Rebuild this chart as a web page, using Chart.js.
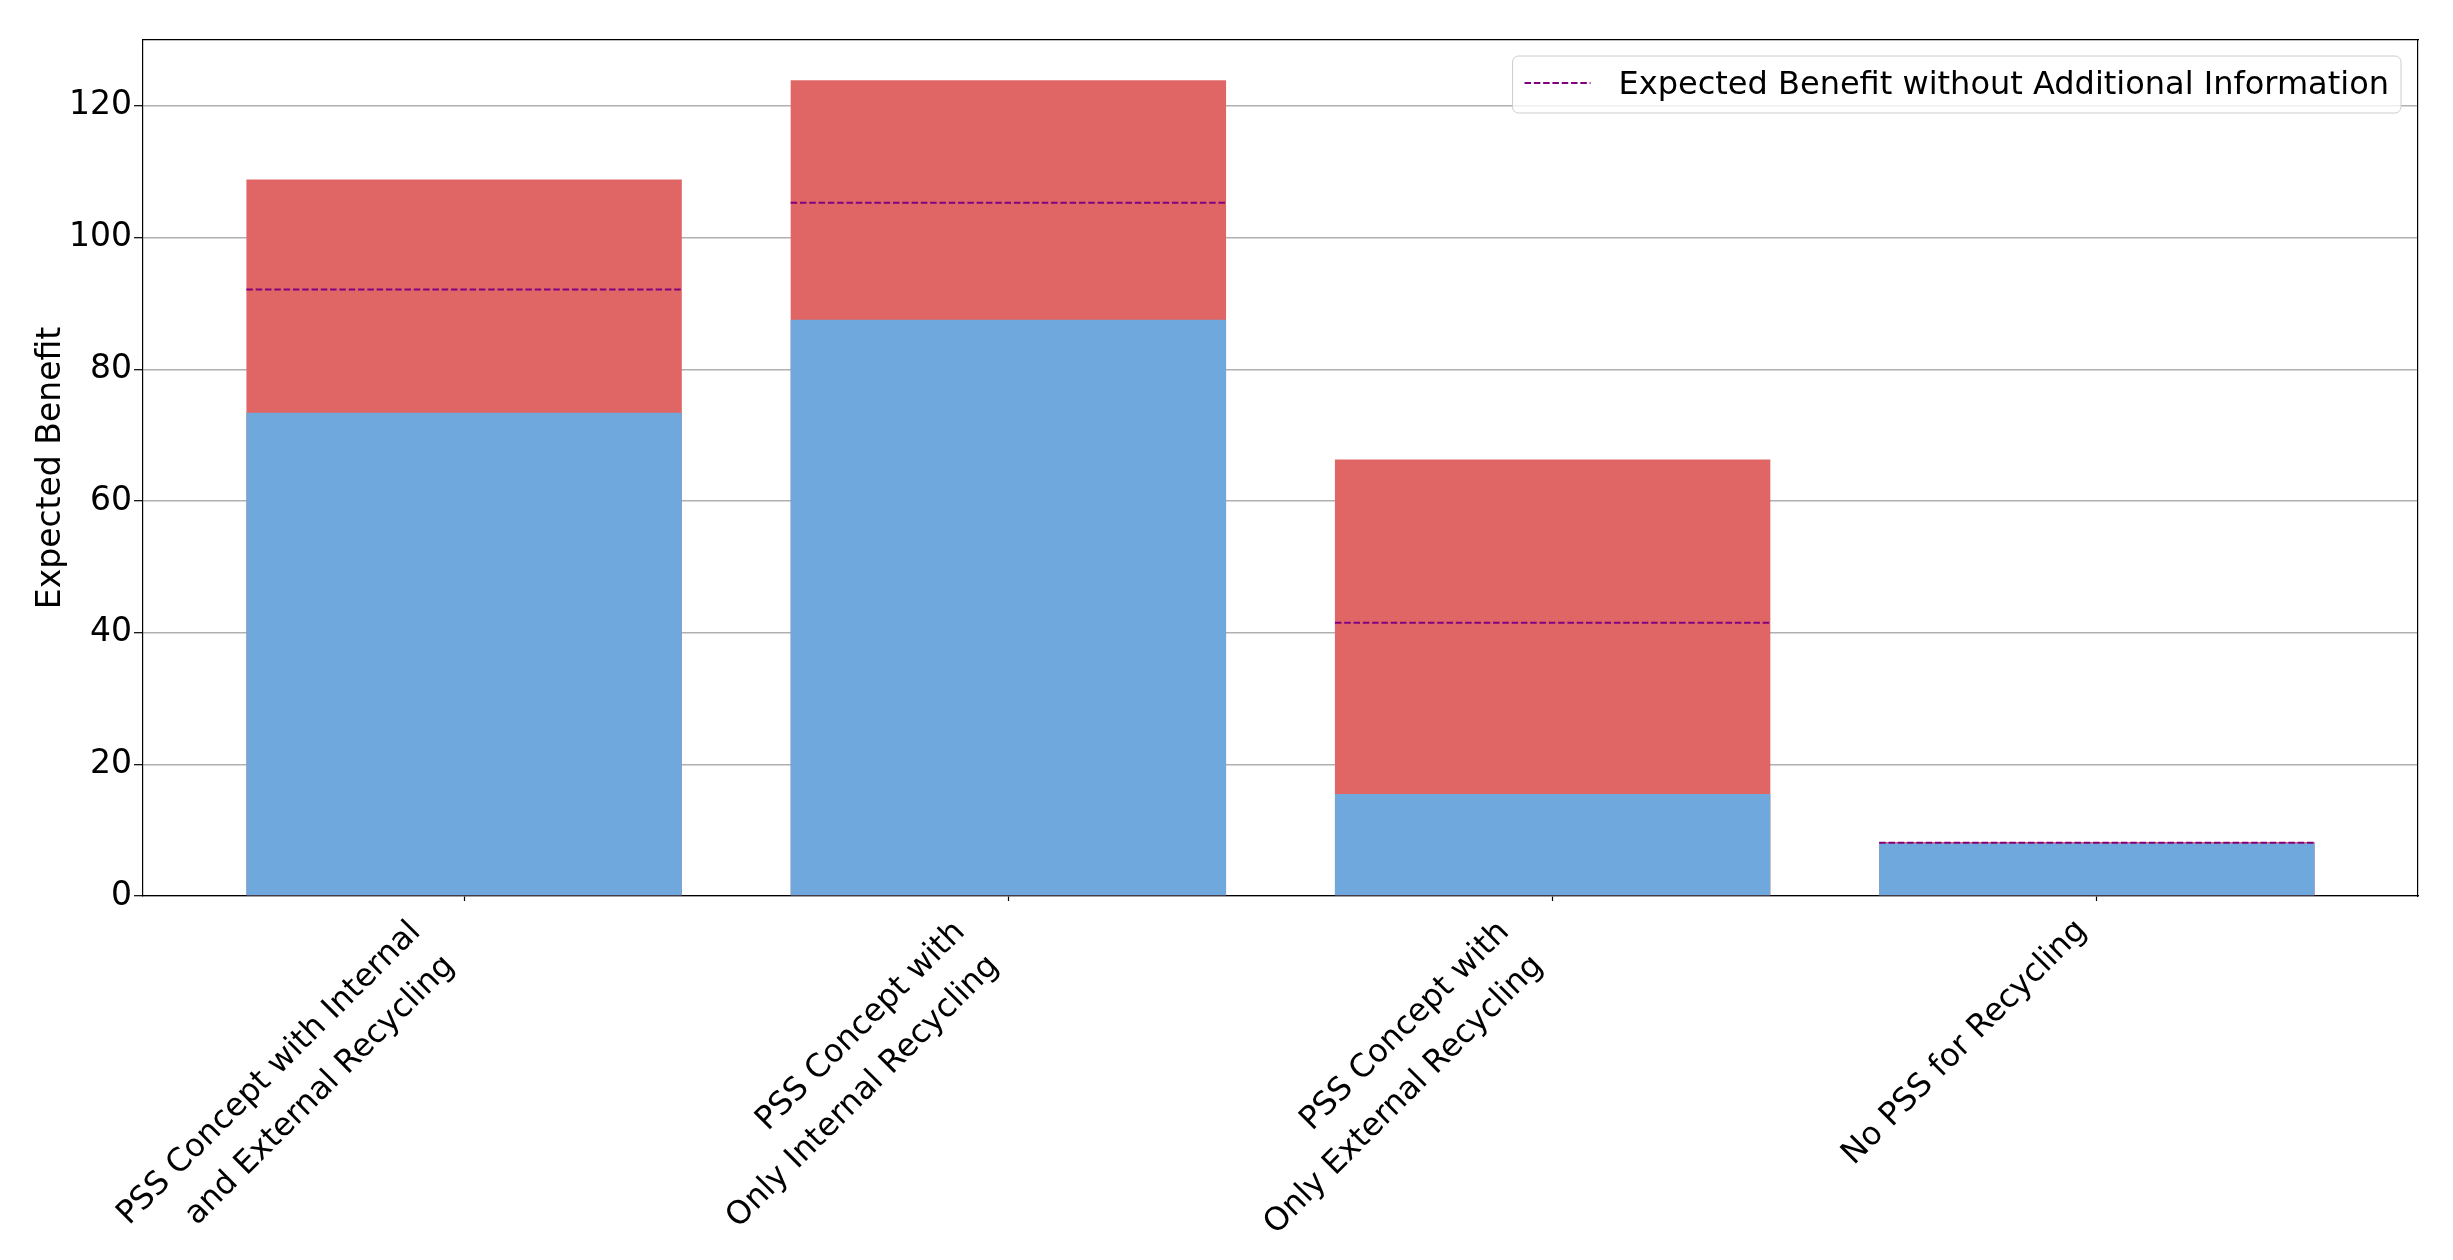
<!DOCTYPE html>
<html>
<head>
<meta charset="utf-8">
<script src="https://cdn.jsdelivr.net/npm/chart.js@4.4.1/dist/chart.umd.min.js"></script>
<style>
    html, body { margin: 0; padding: 0; background: #ffffff; }
    #wrap { width: 2453px; height: 1260px; }
</style>
</head>
<body>
<div id="wrap"><canvas id="benefitChart" width="2453" height="1260"></canvas></div>
<script>
"use strict";

/** DATA */

// Categories (each entry is one multi-line tick label)
const categories = [
    ['PSS Concept with Internal', 'and External Recycling'],
    ['PSS Concept with', 'Only Internal Recycling'],
    ['PSS Concept with', 'Only External Recycling'],
    ['No PSS for Recycling']
];

// Upper (red) bars
const benefitUpper = [108.8, 123.9, 66.3, 8.2];

// Lower (blue) bars
const benefitLower = [73.4, 87.5, 15.5, 8.0];

// Dashed reference per category
const benefitWithoutInfo = [92.1, 105.3, 41.5, 8.1];

// Y axis ticks
const yTicks = [0, 20, 40, 60, 80, 100, 120];

const LEGEND_LABEL = 'Expected Benefit without Additional Information';


/** STYLE */

const FONT = 'DejaVu Sans';
const FONT_SIZE = 33;
const X_FONT_SIZE = 32;
const COLOR = {
    BLUE: '#6fa8dc',
    RED: '#e06666',
    PURPLE: '#800080',
    GRID: '#b0b0b0',
    AXIS: '#000000'
};
const BAR_WIDTH = 0.8;
const X_MARGIN = 0.19;
const DASH = [6.5, 2.8];

// Rotated multi-line labels: trailing pad keeps every label's box right edge on its tick
const LINE_PAD = '    \u200A\u200A';

Chart.defaults.font.family = FONT;
Chart.defaults.font.size = FONT_SIZE;
Chart.defaults.color = '#000000';


/** HELPERS */

// Points {x, y} for the bar charts
const toPoints = values => values.map((v, i) => ({ x: i, y: v }));

// Horizontal segments across each bar, separated by gaps
const toSegments = values => {
    const points = [];
    values.forEach((v, i) => {
        points.push({ x: i - BAR_WIDTH / 2, y: v });
        points.push({ x: i + BAR_WIDTH / 2, y: v });
        points.push({ x: i + 0.5, y: null });
    });
    return points;
};

// Legend drawn inside the plot area (upper right)
const insideLegend = {
    id: 'insideLegend',
    afterDraw: chart => {
        const { ctx, chartArea } = chart;
        const ds = chart.data.datasets.find(d => d.showInLegend);
        if(!ds) return;

        ctx.save();
        ctx.font = `32px "${ FONT }"`;

        const pad = 12, handle = 66, gap = 28, h = 57;
        const textW = ctx.measureText(ds.label).width;
        const w = pad + handle + gap + textW + pad;
        const right = chartArea.right - 17;
        const top = chartArea.top + 16;
        const left = right - w;

        // Frame
        ctx.beginPath();
        ctx.roundRect(left, top, w, h, 6);
        ctx.fillStyle = 'rgba(255,255,255,0.8)';
        ctx.fill();
        ctx.lineWidth = 1;
        ctx.strokeStyle = '#cccccc';
        ctx.stroke();

        // Handle
        ctx.beginPath();
        ctx.setLineDash(ds.borderDash);
        ctx.lineWidth = ds.borderWidth;
        ctx.strokeStyle = ds.borderColor;
        ctx.moveTo(left + pad, top + 27);
        ctx.lineTo(left + pad + handle, top + 27);
        ctx.stroke();
        ctx.setLineDash([]);

        // Label
        ctx.fillStyle = '#000000';
        ctx.textBaseline = 'alphabetic';
        ctx.textAlign = 'left';
        ctx.fillText(ds.label, left + pad + handle + gap, top + 38);
        ctx.restore();
    }
};


/** INITIALIZE CHART */

const benefitChart = new Chart(document.getElementById('benefitChart').getContext('2d'), {
    data: {
        datasets: [
            {
                type: 'line',
                label: LEGEND_LABEL,
                showInLegend: true,
                data: toSegments(benefitWithoutInfo),
                borderColor: COLOR.PURPLE,
                borderWidth: 2,
                borderDash: DASH,
                pointRadius: 0,
                spanGaps: false,
                order: 0
            },
            {
                type: 'bar',
                label: 'Lower',
                data: toPoints(benefitLower),
                backgroundColor: COLOR.BLUE,
                grouped: false,
                barPercentage: BAR_WIDTH,
                categoryPercentage: 1,
                order: 1
            },
            {
                type: 'bar',
                label: 'Upper',
                data: toPoints(benefitUpper),
                backgroundColor: COLOR.RED,
                grouped: false,
                barPercentage: BAR_WIDTH,
                categoryPercentage: 1,
                order: 2
            }
        ]
    },
    options: {
        responsive: false,
        animation: false,
        devicePixelRatio: 1,
        layout: {
            padding: { top: 40, right: 35, left: 0, bottom: 0 }
        },
        plugins: {
            legend: { display: false },
            tooltip: { enabled: false }
        },
        scales: {
            x: {
                type: 'linear',
                position: 'bottom',
                offset: false,
                min: -BAR_WIDTH / 2 - X_MARGIN,
                max: categories.length - 1 + BAR_WIDTH / 2 + X_MARGIN,
                afterBuildTicks: scale => {
                    scale.ticks = categories.map((c, i) => ({ value: i }));
                },
                afterFit: scale => { scale.height = 364; },
                ticks: {
                    autoSkip: false,
                    minRotation: 45,
                    maxRotation: 45,
                    labelOffset: -15,
                    padding: -24,
                    // single-line labels sit between the two line slots
                    font: ctx => ({
                        size: X_FONT_SIZE,
                        lineHeight: (categories[ctx.index] || []).length > 1 ? 1.5 : 4.31
                    }),
                    callback: value => {
                        const lines = categories[value];
                        return lines.length > 1 ? lines.map(l => l + LINE_PAD) : lines;
                    }
                },
                grid: {
                    offset: false,
                    drawOnChartArea: false,
                    drawTicks: true,
                    tickLength: 5,
                    tickColor: COLOR.AXIS,
                    tickWidth: 1.2
                },
                border: { display: true, color: COLOR.AXIS, width: 1.2 }
            },
            y: {
                type: 'linear',
                position: 'left',
                min: 0,
                max: 130,
                z: 1,
                afterBuildTicks: scale => {
                    scale.ticks = yTicks.map(v => ({ value: v }));
                },
                afterFit: scale => { scale.width = 143; },
                ticks: {
                    padding: 2,
                    font: { size: FONT_SIZE }
                },
                grid: {
                    color: COLOR.GRID,
                    lineWidth: 1.4,
                    tickLength: 9,
                    tickColor: COLOR.AXIS,
                    tickWidth: 1.2
                },
                border: { display: true, color: COLOR.AXIS, width: 1.2 },
                title: {
                    display: true,
                    text: 'Expected Benefit',
                    font: { size: FONT_SIZE },
                    padding: { top: 32, bottom: 0 }
                }
            },
            // Top and right frame lines
            xTop: {
                type: 'linear',
                position: 'top',
                ticks: { display: false },
                grid: { display: false },
                border: { display: true, color: COLOR.AXIS, width: 1.2 },
                afterFit: scale => { scale.height = 0; }
            },
            yRight: {
                type: 'linear',
                position: 'right',
                ticks: { display: false },
                grid: { display: false },
                border: { display: true, color: COLOR.AXIS, width: 1.2 },
                afterFit: scale => { scale.width = 0; }
            }
        }
    },
    plugins: [insideLegend]
});
</script>
</body>
</html>
